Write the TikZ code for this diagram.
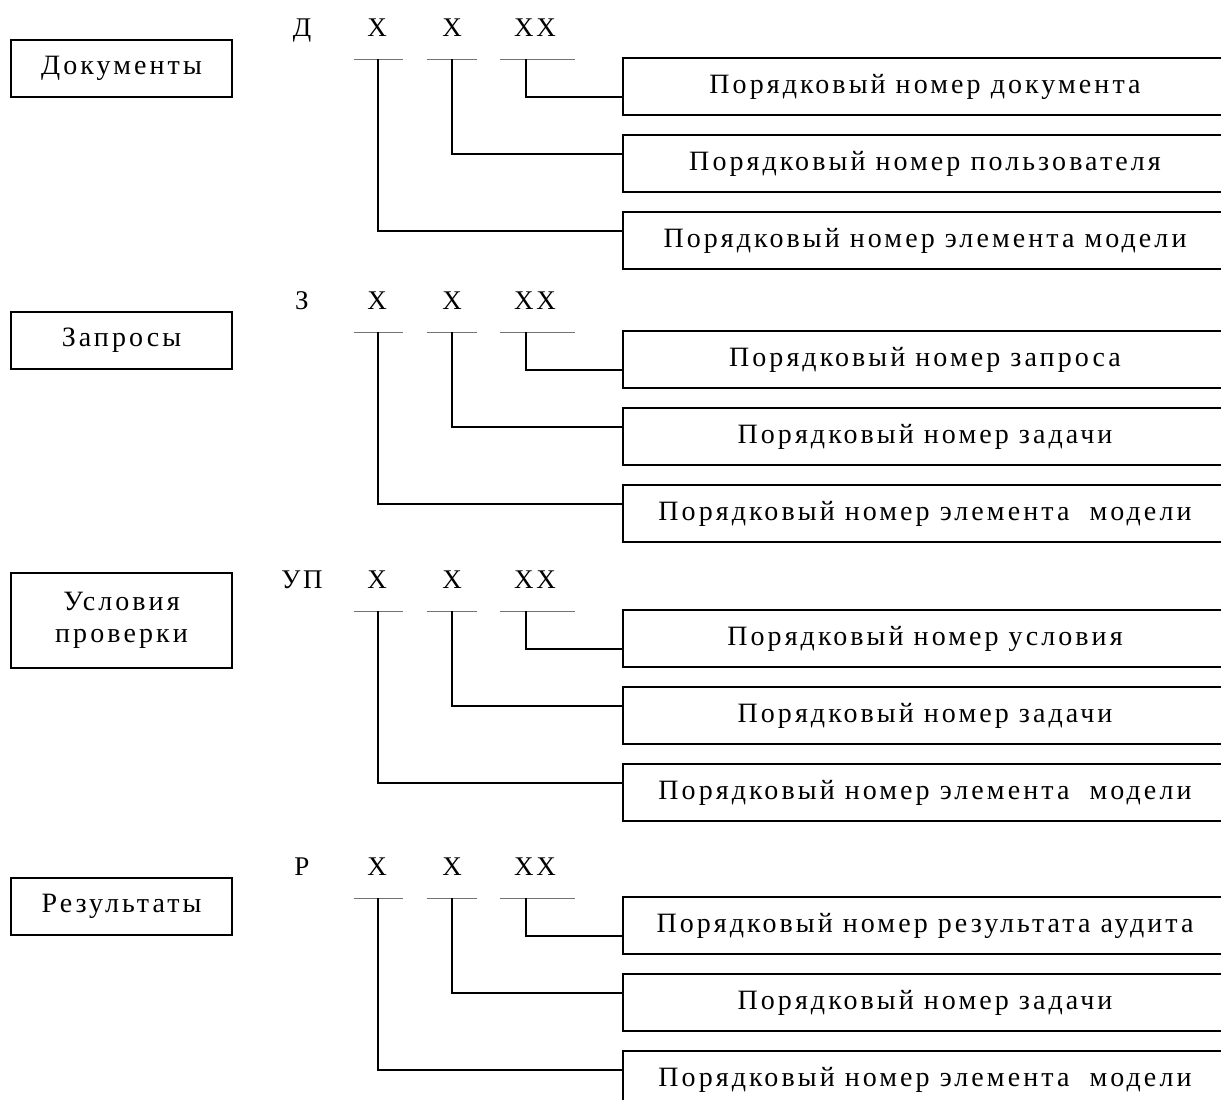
\documentclass[tikz,border=0pt]{standalone}
\usepackage{fontspec}
\setmainfont{Liberation Serif}
\newfontfamily\spacedserif[LetterSpace=11]{Liberation Serif}
\newfontfamily\codeserif[LetterSpace=10]{Liberation Serif}
\newcommand\boxfont{\spacedserif\fontsize{28}{32}\selectfont}
\newcommand\codefont{\codeserif\fontsize{27}{30}\selectfont}
\newcommand\mkrow[6]{%
  \node[code] (p#1) at (302,{36+#2}) {#3};
  \node[code] (xa#1) at (377,{36+#2}) {X};
  \node[code] (xb#1) at (452,{36+#2}) {X};
  \node[code] (xc#1) at (535,{36+#2}) {XX};
  \draw[uline] (354,{59+#2}) -- (403,{59+#2});
  \draw[uline] (427,{59+#2}) -- (477,{59+#2});
  \draw[uline] (500,{59+#2}) -- (575,{59+#2});
  \coordinate (ua#1) at (378,{59+#2});
  \coordinate (ub#1) at (452,{59+#2});
  \coordinate (uc#1) at (526,{59+#2});
  \node[rbox] (ra#1) at (925,{86.5+#2}) {Порядковый номер #4};
  \node[rbox] (rb#1) at (925,{163.5+#2}) {Порядковый номер #5};
  \node[rbox] (rc#1) at (925,{240.5+#2}) {Порядковый номер #6};
  \draw[conn] (uc#1) |- ([yshift=-10pt]ra#1.west);
  \draw[conn] (ub#1) |- ([yshift=10pt]rb#1.west);
  \draw[conn] (ua#1) |- ([yshift=10pt]rc#1.west);
}
\begin{document}
\begin{tikzpicture}[x=1pt,y=-1pt,
  lbl/.style={draw,line width=2pt,minimum width=221pt,minimum height=57pt,inner sep=0pt,font=\boxfont,align=center},
  rbox/.style={draw,line width=2pt,minimum width=604pt,minimum height=57pt,inner sep=0pt,font=\boxfont,text height=19pt,text depth=6pt},
  conn/.style={line width=2pt},
  uline/.style={line width=1pt,black!55},
  code/.style={anchor=base,font=\codefont,inner sep=0pt}]
\useasboundingbox (0,0) rectangle (1221,1100);
\clip (0,0) rectangle (1221,1100);
\fill[white] (0,0) rectangle (1221,1100);
% left category boxes
\node[lbl] (L1) at (121.5,68) {Документы};
\node[lbl] (L2) at (121.5,340.5) {Запросы};
\node[lbl,minimum height=95pt] (L3) at (121.5,620.5) {Условия\\[0pt]проверки};
\node[lbl] (L4) at (121.5,906.5) {Результаты};
% code rows
\mkrow{1}{0}{Д}{документа}{пользователя}{элемента модели}
\mkrow{2}{273}{З}{запроса}{задачи}{элемента\ \ модели}
\mkrow{3}{552}{УП}{условия}{задачи}{элемента\ \ модели}
\mkrow{4}{839}{Р}{результата аудита}{задачи}{элемента\ \ модели}
\end{tikzpicture}
\end{document}
